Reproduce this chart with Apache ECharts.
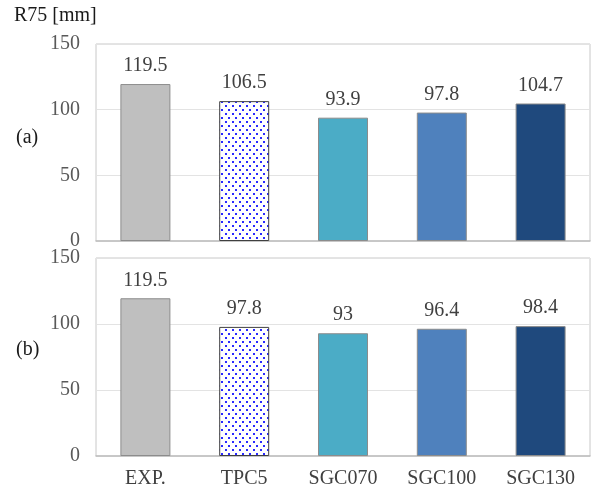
<!DOCTYPE html>
<html>
<head>
<meta charset="utf-8">
<script src="https://cdn.jsdelivr.net/npm/echarts@6/dist/echarts.min.js"></script>
<style>
  html, body { margin: 0; padding: 0; background: #fff; }
  #chart { width: 593px; height: 495px; }
</style>
</head>
<body>
<div id="chart"></div>
<script>
// Categories along the x axis
const categories = ['EXP.', 'TPC5', 'SGC070', 'SGC100', 'SGC130'];
// R75 values for panel (a) and panel (b)
const valuesA = [119.5, 106.5, 93.9, 97.8, 104.7];
const valuesB = [119.5, 97.8, 93, 96.4, 98.4];
// Y axis ticks
const yMin = 0, yMax = 150, yStep = 50;

// Blue dotted fill used for the TPC5 bar
function dotPattern() {
  const c = document.createElement('canvas');
  c.width = 7; c.height = 8;
  const g = c.getContext('2d');
  g.fillStyle = '#ffffff';
  g.fillRect(0, 0, 7, 8);
  g.fillStyle = '#2a2aff';
  g.fillRect(1, 1, 2, 2);
  g.fillRect(4, 5, 2, 2);
  return { image: c, repeat: 'repeat' };
}

const barFills = ['#bfbfbf', dotPattern(), '#4bacc6', '#4f81bd', '#1f497d'];
const barBorders = ['#8c8c8c', '#404040', '#8c8c8c', '#8c8c8c', '#8c8c8c'];
const font = '"Liberation Serif", "Times New Roman", serif';

function styled(values) {
  return values.map((v, i) => ({
    value: v,
    itemStyle: { color: barFills[i], borderColor: barBorders[i], borderWidth: 1 }
  }));
}

const grids = [
  { left: 96, right: 3, top: 44, height: 197 },
  { left: 96, right: 3, top: 258, height: 198 }
].map(g => Object.assign(g, { show: true, borderColor: '#c8c8c8', borderWidth: 1, containLabel: false }));

function xAxis(idx, showLabels) {
  return {
    type: 'category', gridIndex: idx, data: categories,
    axisLine: { show: true, lineStyle: { color: '#bfbfbf', width: 1.5 } },
    axisTick: { show: false },
    axisLabel: { show: showLabels, color: '#404040', fontFamily: font, fontSize: 20, margin: 13 }
  };
}
function yAxis(idx) {
  return {
    type: 'value', gridIndex: idx, min: yMin, max: yMax, interval: yStep,
    axisLine: { show: false }, axisTick: { show: false },
    splitLine: { show: true, lineStyle: { color: '#e3e3e3', width: 1 } },
    axisLabel: { color: '#595959', fontFamily: font, fontSize: 20, margin: 16 }
  };
}
function barSeries(idx, values) {
  return {
    type: 'bar', xAxisIndex: idx, yAxisIndex: idx, barWidth: 50,
    data: styled(values),
    label: { show: true, position: 'top', distance: 8, color: '#404040', fontFamily: font, fontSize: 20 },
    silent: true, animation: false
  };
}

const chart = echarts.init(document.getElementById('chart'), null, { renderer: 'canvas' });
chart.setOption({
  animation: false,
  backgroundColor: '#ffffff',
  grid: grids,
  xAxis: [xAxis(0, false), xAxis(1, true)],
  yAxis: [yAxis(0), yAxis(1)],
  series: [barSeries(0, valuesA), barSeries(1, valuesB)],
  graphic: [
    { type: 'text', left: 14, top: 6, style: { text: 'R75 [mm]', fill: '#1a1a1a', font: '20px ' + font } },
    { type: 'text', left: 16, top: 128, style: { text: '(a)', fill: '#1a1a1a', font: '20px ' + font } },
    { type: 'text', left: 16, top: 340, style: { text: '(b)', fill: '#1a1a1a', font: '20px ' + font } }
  ]
});
</script>
</body>
</html>
